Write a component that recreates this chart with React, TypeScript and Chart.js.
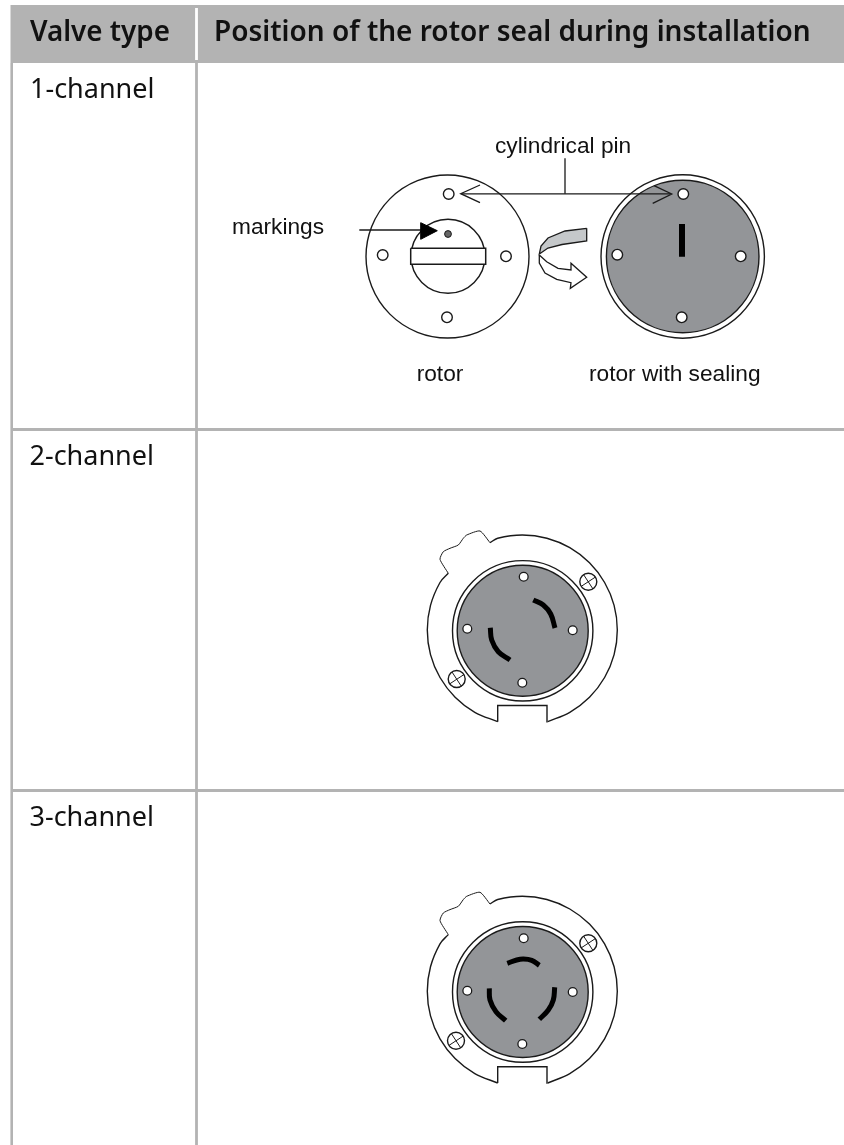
import React, { useEffect, useRef } from "react";
import { Chart, registerables } from "chart.js";

Chart.register(...registerables);

type P = [number, number];

const WIDTH = 844;
const HEIGHT = 1145;
const RULE = "#b3b3b3";
const INK = "#1a1a1a";
const DISC = "#939598";
const RIBBON = "#c5c8ca";

const headerLabels = ["Valve type", "Position of the rotor seal during installation"];
const rowLabels = ["1-channel", "2-channel", "3-channel"];
const calloutLabels = ["cylindrical pin", "markings", "rotor", "rotor with sealing"];

const headerBand: P[] = [[10.5, 5], [844, 5], [844, 63], [10.5, 63], [10.5, 5]];
const headerGap: P[] = [[196.5, 8], [196.5, 60]];
const gridVerticalLeft: P[] = [[11.7, 63], [11.7, 1145]];
const gridVerticalMid: P[] = [[196.5, 63], [196.5, 1145]];
const gridRow2: P[] = [[11, 429.5], [844, 429.5]];
const gridRow3: P[] = [[11, 790.5], [844, 790.5]];

const leadMarkings: P[] = [[359.3, 230], [422, 230]];
const headMarkings: P[] = [[420.7, 222.7], [437.3, 230.7], [420.7, 239.3], [420.7, 222.7]];
const leadPin: P[] = [[461.7, 193.8], [670, 193.8]];
const stemPin: P[] = [[565, 158.3], [565, 193.8]];
const headPinLeft: P[] = [[480, 185], [460.7, 193.7], [480, 202.7]];
const headPinRight: P[] = [[654, 185.7], [671.7, 194], [652.7, 203.3]];
const rotorSlot: P[] = [[410.7, 248.3], [485.7, 248.3], [485.7, 264.3], [410.7, 264.3], [410.7, 248.3]];
const sealBar: P[] = [[682, 224], [682, 256.7]];
const turnRibbon: P[] = [[586.7, 228.3], [565, 231], [548, 238], [541, 246], [539.3, 254], [548, 248], [562, 244.5], [586.7, 241], [586.7, 228.3]];
const turnArrow: P[] = [[539.3, 255], [539.3, 263], [545, 273], [556.7, 279.3], [571, 282.7], [570.3, 288.3], [586.7, 277.3], [571, 263.3], [571, 270], [558, 268.3], [546.7, 261.7], [539.3, 255]];

const housingRight: P[] = [[490, 542.7], [497.7, 538.2], [522.3, 535], [546.9, 538.2], [569.8, 547.7], [589.5, 562.8], [604.6, 582.5], [614.1, 605.4], [617.3, 630], [614.1, 654.6], [604.6, 677.5], [589.5, 697.2], [569.8, 712.3], [547.7, 721.7]];
const housingLeft: P[] = [[497.7, 721.7], [474.8, 712.3], [455.1, 697.2], [440, 677.5], [430.5, 654.6], [427.3, 630], [430.5, 605.4], [440, 582.5], [448.3, 573.3]];
const housingNotch: P[] = [[547.7, 721.7], [547, 705.5], [497.7, 705.5], [497.7, 721.7]];
const housingTab: P[] = [[448.3, 573.3], [440, 559.3], [443.3, 551.7], [450, 548.3], [458.3, 545], [463.3, 538.3], [466.7, 535], [480, 531], [490, 542.7]];

const arcsTwoChannel: P[][] = [
  [[533.3, 600], [543.3, 605], [550.7, 614], [555, 628]],
  [[490.3, 627.7], [491.7, 640], [498.3, 651.7], [510, 660]],
];
const arcsThreeChannel: P[][] = [
  [[507.3, 963.3], [516.7, 960], [523.3, 959], [531.7, 960.3], [539.3, 965.3]],
  [[489.3, 988.3], [490, 1000], [496, 1011.7], [505.7, 1020.7]],
  [[554.7, 987.3], [553.3, 1000], [548.3, 1010], [539.3, 1019.3]],
];
const screwCrosses: P[][] = [
  [[583.5, 574.5], [593, 589]], [[581, 586.5], [595.5, 577]],
  [[452, 672], [461.5, 686.5]], [[449.5, 684], [464, 674.5]],
  [[583.5, 936], [593, 950.5]], [[581, 948], [595.5, 938.5]],
  [[451.3, 1033.5], [460.8, 1048]], [[448.8, 1045.5], [463.3, 1036]],
];

const THREE_CHANNEL_SHIFT = 361.3;
const shifted = (line: P[]): P[] => line.map(([x, y]) => [x, y + THREE_CHANNEL_SHIFT] as P);

const rings: { at: P; r: number; fill: string }[] = [
  { at: [447.5, 256.5], r: 81.5, fill: "#ffffff" },
  { at: [448, 256.3], r: 37, fill: "#ffffff" },
  { at: [682.7, 256.5], r: 81.7, fill: "#ffffff" },
  { at: [682.7, 256.5], r: 76.3, fill: DISC },
  { at: [522.7, 630.8], r: 70.2, fill: "#ffffff" },
  { at: [522.7, 630.8], r: 65.5, fill: DISC },
  { at: [522.7, 992], r: 70.2, fill: "#ffffff" },
  { at: [522.7, 992], r: 65.5, fill: DISC },
  { at: [588.3, 581.7], r: 8.5, fill: "#ffffff" },
  { at: [456.7, 679], r: 8.5, fill: "#ffffff" },
  { at: [588.3, 943.3], r: 8.5, fill: "#ffffff" },
  { at: [456, 1040.7], r: 8.5, fill: "#ffffff" },
];
const pinHolesRotor: P[] = [[448.7, 194], [382.7, 255], [506, 256.3], [447, 317.3], [683.3, 194], [617.3, 254.7], [740.7, 256.3], [681.7, 317.3]];
const pinHolesValves: P[] = [[523.7, 576.7], [467.3, 628.7], [572.7, 630.3], [522.3, 682.7], [523.7, 938.3], [467.3, 990.7], [572.7, 992], [522.3, 1044]];
const markingDot: P[] = [[448, 234]];

const pts = (line: P[]) => line.map(([x, y]) => ({ x, y }));

const stroke = (line: P[], borderWidth = 1.3, tension = 0, color = INK) => ({
  data: pts(line), showLine: true, borderColor: color, borderWidth, tension, pointRadius: 0, fill: false, borderCapStyle: "butt",
});
const solid = (line: P[], color: string, borderWidth = 1.3, edge = INK) => ({
  data: pts(line), showLine: true, borderColor: edge, borderWidth, tension: 0, pointRadius: 0, fill: "shape", backgroundColor: color, borderJoinStyle: "miter",
});
const dots = (line: P[], r: number, fill: string, borderWidth = 1.4) => ({
  data: pts(line), showLine: false, pointRadius: r, pointBackgroundColor: fill, pointBorderColor: INK, pointBorderWidth: borderWidth,
});

const textPlugin = {
  id: "tableText",
  afterDatasetsDraw(chart: any) {
    const { ctx, scales } = chart;
    const put = (s: string, x: number, y: number, font: string, fit?: number) => {
      ctx.font = font;
      ctx.fillStyle = "#111111";
      ctx.textAlign = "left";
      ctx.textBaseline = "alphabetic";
      ctx.fillText(s, scales.x.getPixelForValue(x), scales.y.getPixelForValue(y), fit);
    };
    const head = '600 28px "Noto Sans"';
    const row = '400 27px "Noto Sans"';
    const call = '400 22.7px "Liberation Sans"';
    ctx.save();
    put(headerLabels[0], 30, 41, head, 140);
    put(headerLabels[1], 214, 41, head, 599);
    put(rowLabels[0], 30, 98, row, 126);
    put(rowLabels[1], 29.5, 465, row, 126);
    put(rowLabels[2], 29.5, 826, row, 126);
    put(calloutLabels[0], 495, 153.3, call);
    put(calloutLabels[1], 232, 234, call);
    put(calloutLabels[2], 416.7, 381, call);
    put(calloutLabels[3], 589, 381, call);
    ctx.restore();
  },
};

export default function App() {
  const ref = useRef<HTMLCanvasElement>(null);
  useEffect(() => {
    const layers: any[] = [
      solid(headerBand, RULE, 0, RULE),
      stroke(headerGap, 2.8, 0, "#ffffff"),
      stroke(gridVerticalLeft, 2.6, 0, RULE),
      stroke(gridVerticalMid, 2.8, 0, RULE),
      stroke(gridRow2, 2.8, 0, RULE),
      stroke(gridRow3, 2.8, 0, RULE),
      ...rings.map((c) => dots([c.at], c.r, c.fill, 1.4)),
      solid(rotorSlot, "#ffffff", 1.5),
      dots(markingDot, 3.4, "#666666", 1),
      stroke(leadMarkings, 1.3),
      solid(headMarkings, "#000000", 1, "#000000"),
      stroke(leadPin, 1.3),
      stroke(stemPin, 1.3),
      stroke(headPinLeft, 1.3),
      stroke(headPinRight, 1.3),
      stroke(sealBar, 6, 0, "#000000"),
      solid(turnRibbon, RIBBON, 1.3),
      solid(turnArrow, "#ffffff", 1.3),
      dots(pinHolesRotor, 5.3, "#ffffff", 1.4),
      dots(pinHolesValves, 4.4, "#ffffff", 1.3),
      ...[housingRight, housingLeft, shifted(housingRight), shifted(housingLeft)].map((l) => stroke(l, 1.4, 0.35)),
      ...[housingNotch, shifted(housingNotch)].map((l) => stroke(l, 1.4)),
      ...[housingTab, shifted(housingTab)].map((l) => stroke(l, 1, 0.2)),
      ...[...arcsTwoChannel, ...arcsThreeChannel].map((l) => stroke(l, 5, 0.4, "#000000")),
      ...screwCrosses.map((l) => stroke(l, 1)),
    ];
    const chart = new Chart(ref.current as HTMLCanvasElement, {
      type: "scatter",
      data: { datasets: layers.map((d, i) => ({ ...d, order: -i })) },
      options: {
        animation: false,
        responsive: false,
        layout: { padding: 0, autoPadding: false },
        plugins: { legend: { display: false }, tooltip: { enabled: false } },
        scales: {
          x: { type: "linear", display: false, min: 0, max: WIDTH },
          y: { type: "linear", display: false, min: 0, max: HEIGHT, reverse: true },
        },
      },
      plugins: [textPlugin],
    } as any);
    return () => chart.destroy();
  }, []);
  return (
    <canvas
      ref={ref}
      width={WIDTH}
      height={HEIGHT}
      style={{ position: "absolute", left: 0, top: 0, width: WIDTH, height: HEIGHT, display: "block", background: "#ffffff" }}
    />
  );
}
